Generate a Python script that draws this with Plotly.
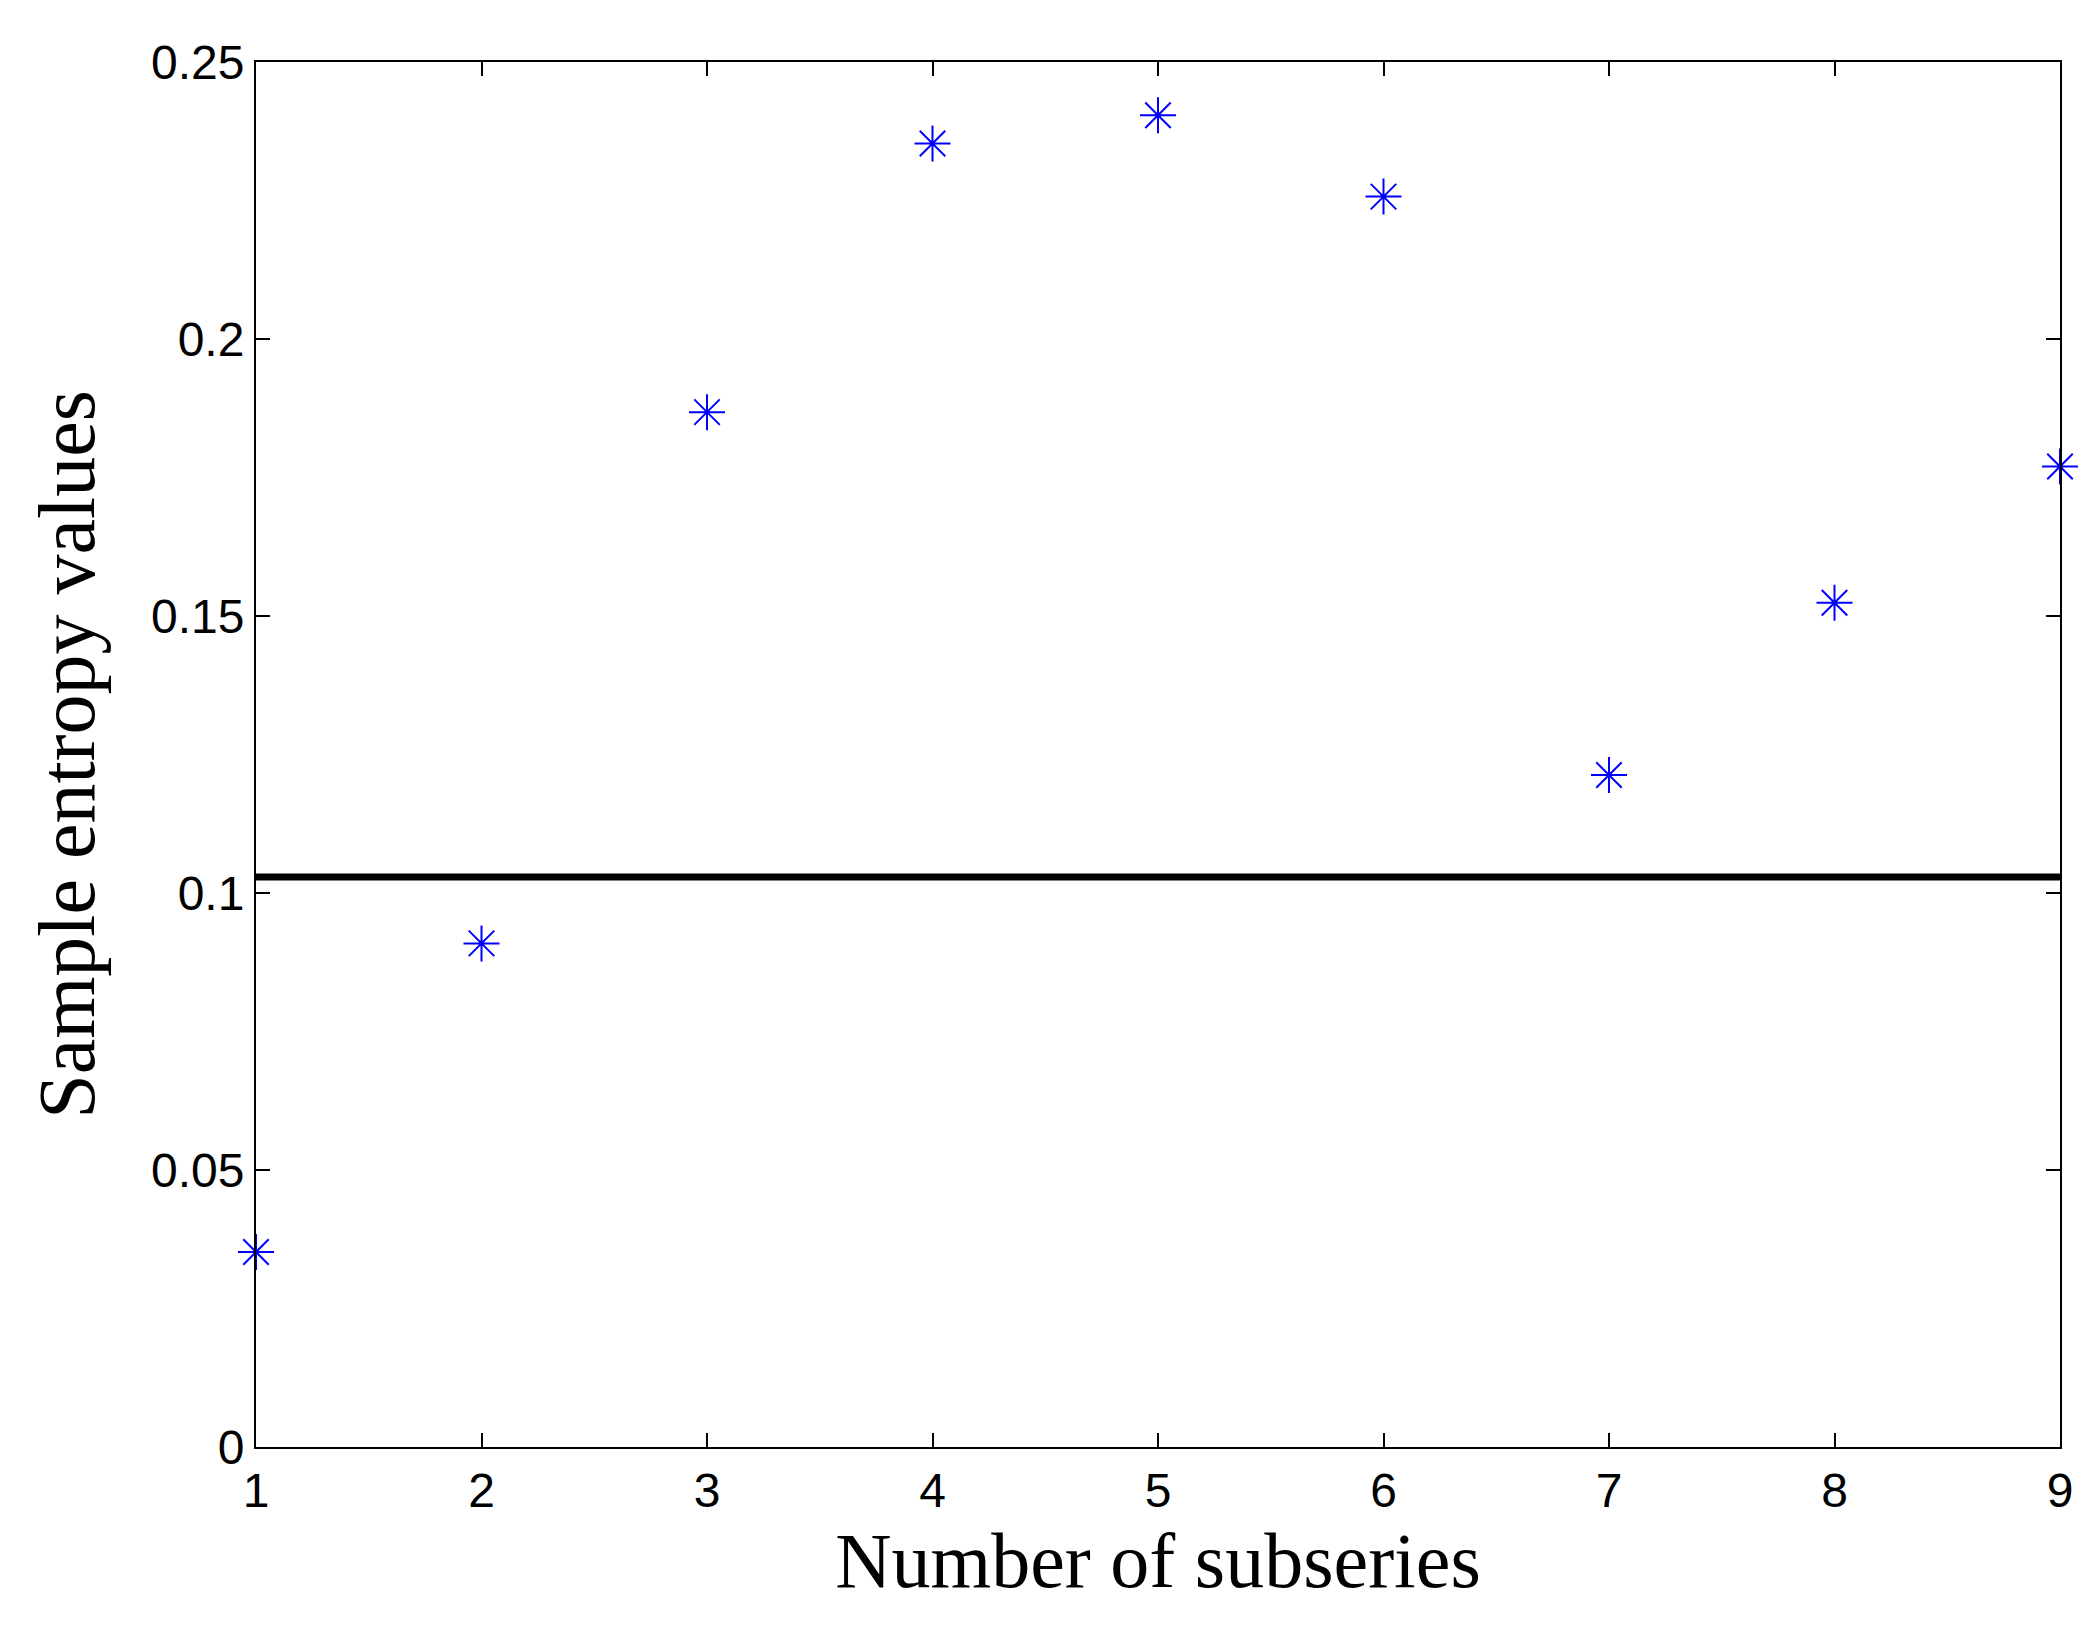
import plotly.graph_objects as go

x_vals = [1, 2, 3, 4, 5, 6, 7, 8, 9]
entropy = [0.0352, 0.0909, 0.1868, 0.2353, 0.2404, 0.2257, 0.1213, 0.1524, 0.1770]
threshold = 0.1029

fig = go.Figure()
fig.add_trace(go.Scatter(x=[1, 9], y=[threshold, threshold], mode="lines",
                         line=dict(color="black", width=7), showlegend=False))
fig.add_trace(go.Scatter(x=x_vals, y=entropy, mode="markers",
                         marker=dict(symbol="asterisk-open", size=30, color="blue",
                                     line=dict(color="blue", width=2)),
                         showlegend=False, cliponaxis=False))

axis_common = dict(showgrid=False, zeroline=False, showline=True, linecolor="black",
                   linewidth=2, mirror="ticks", ticks="inside", ticklen=14,
                   tickwidth=2, tickcolor="black",
                   tickfont=dict(family="Liberation Sans, Arial", size=48, color="black"))
fig.update_xaxes(range=[1, 9], tickvals=x_vals,
                 title=dict(text="Number of subseries",
                            font=dict(family="Liberation Serif, Times New Roman", size=78, color="black"),
                            standoff=15), **axis_common)
fig.update_yaxes(range=[0, 0.25], tickvals=[0, 0.05, 0.1, 0.15, 0.2, 0.25],
                 ticktext=["0", "0.05", "0.1", "0.15", "0.2", "0.25"],
                 title=dict(text="Sample entropy values",
                            font=dict(family="Liberation Serif, Times New Roman", size=80, color="black"),
                            standoff=30), **axis_common)
fig.update_layout(width=2098, height=1637, plot_bgcolor="white", paper_bgcolor="white",
                  margin=dict(l=248, r=46, t=54, b=198))
fig.write_html("out.html")
